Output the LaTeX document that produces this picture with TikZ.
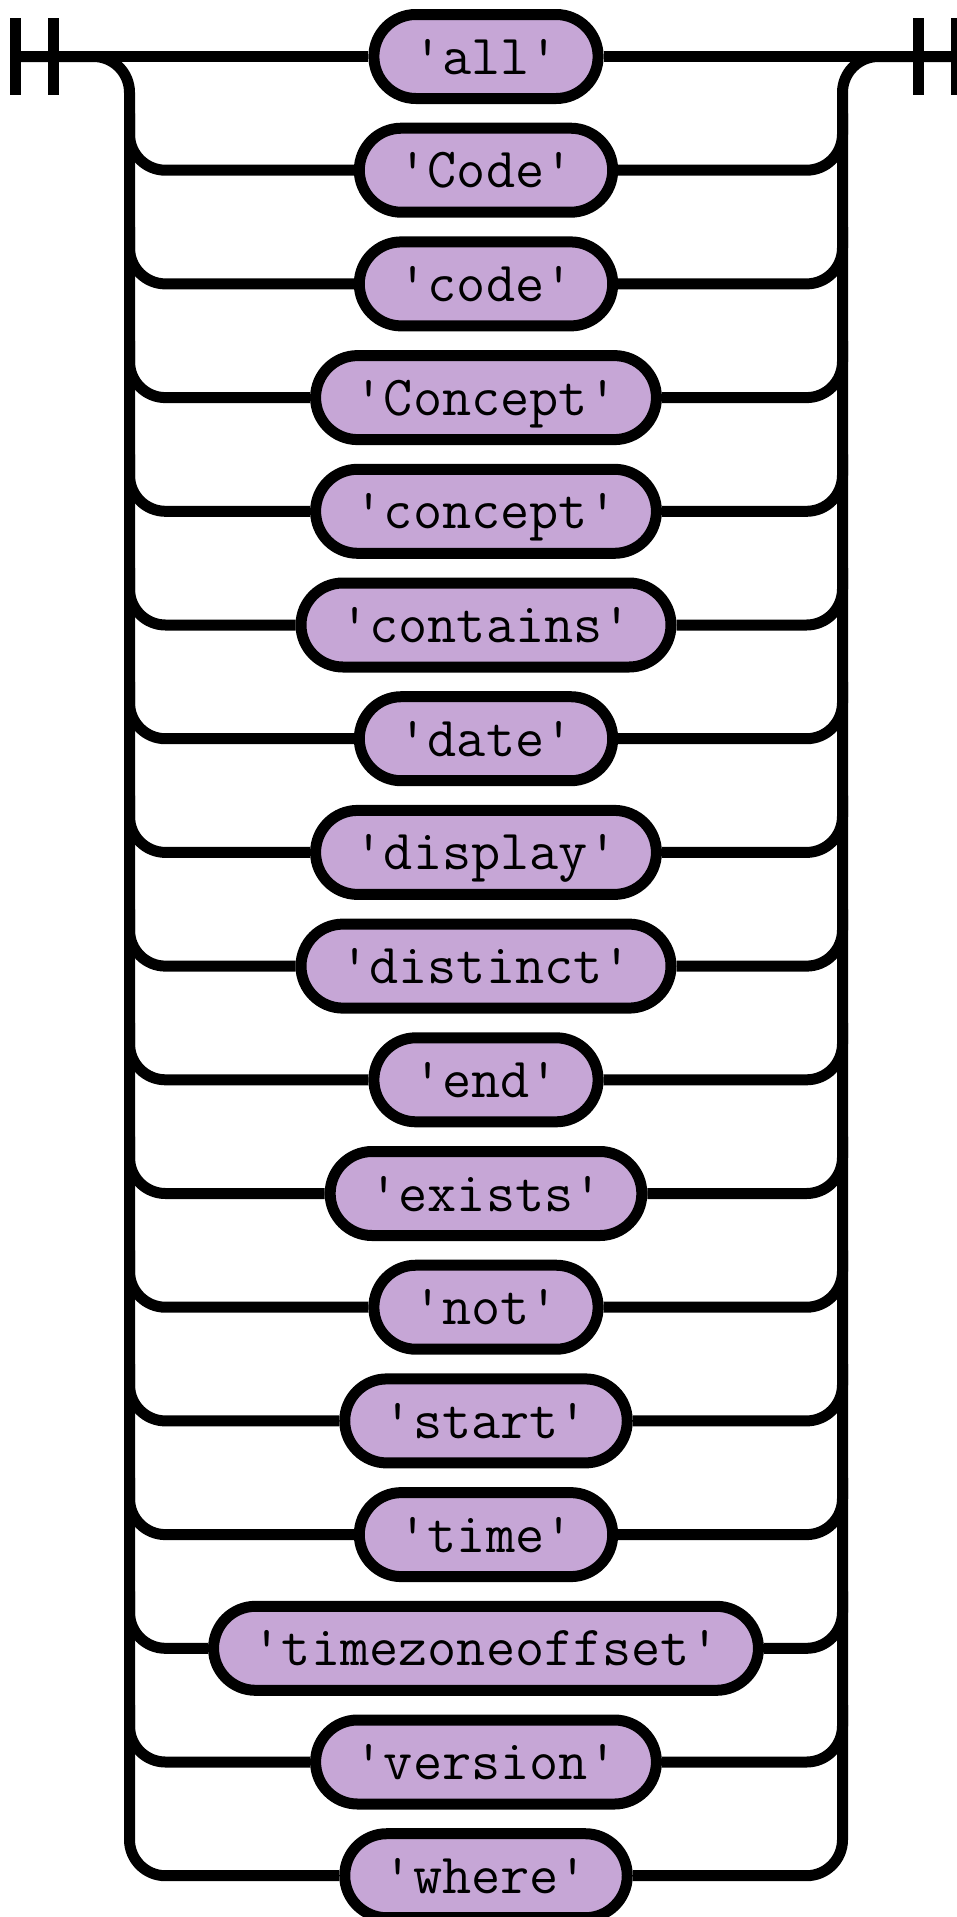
\documentclass[tikz,border=0pt]{standalone}
\usepackage{tikz}
\usetikzlibrary{calc}
\definecolor{termfill}{RGB}{198,166,214}
\tikzset{
    rail/.style={line width=11pt},
    term/.style={draw, line width=11pt, fill=termfill, rounded corners=42pt,
        minimum height=84pt, inner xsep=39.25pt, inner ysep=0pt,
        text height=35pt, text depth=0pt,
        font=\ttfamily\fontsize{56.6pt}{60pt}\selectfont},
}
\begin{document}
\begin{tikzpicture}[x=1pt, y=-1pt]
        \useasboundingbox (0,0) rectangle (956,1917);

        % Terminalai
        \foreach \w [count=\i from 0] in {all,Code,code,Concept,concept,contains,date,display,distinct,end,exists,not,start,time,timezoneoffset,version,where} {
            \pgfmathsetmacro\rowy{56.5+113.7*\i}
            \node[term] (t\i) at (486,\rowy) {\textquotesingle\w\textquotesingle};
            \coordinate (L\i) at (129.5,\rowy);
            \coordinate (R\i) at (842.5,\rowy);
        }
        \coordinate (start) at (15.5,56.5);
        \coordinate (finish) at (956,56.5);

        % Pradzios ir pabaigos zymes
        \foreach \x in {15.5,53.5,918.5,956.5} {
            \draw[rail] (\x,18) -- (\x,95);
        }

        % Pagrindine linija
        \draw[rail] (start) -- (t0.west);
        \draw[rail] (t0.east) -- (finish);

        % Isoriniai begiai
        \draw[rail, rounded corners=36pt] (start) -- (L0) -- (L16) -- (t16.west);
        \draw[rail, rounded corners=36pt] (t16.east) -- (R16) -- (R0) -- (finish);

        % Atsakos
        \foreach \i [remember=\i as \j (initially 0)] in {1,...,15} {
            \draw[rail, rounded corners=36pt] ($(L\j)!0.5!(L\i)$) -- (L\i) -- (t\i.west);
            \draw[rail, rounded corners=36pt] (t\i.east) -- (R\i) -- ($(R\j)!0.5!(R\i)$);
        }
    \end{tikzpicture}
\end{document}
